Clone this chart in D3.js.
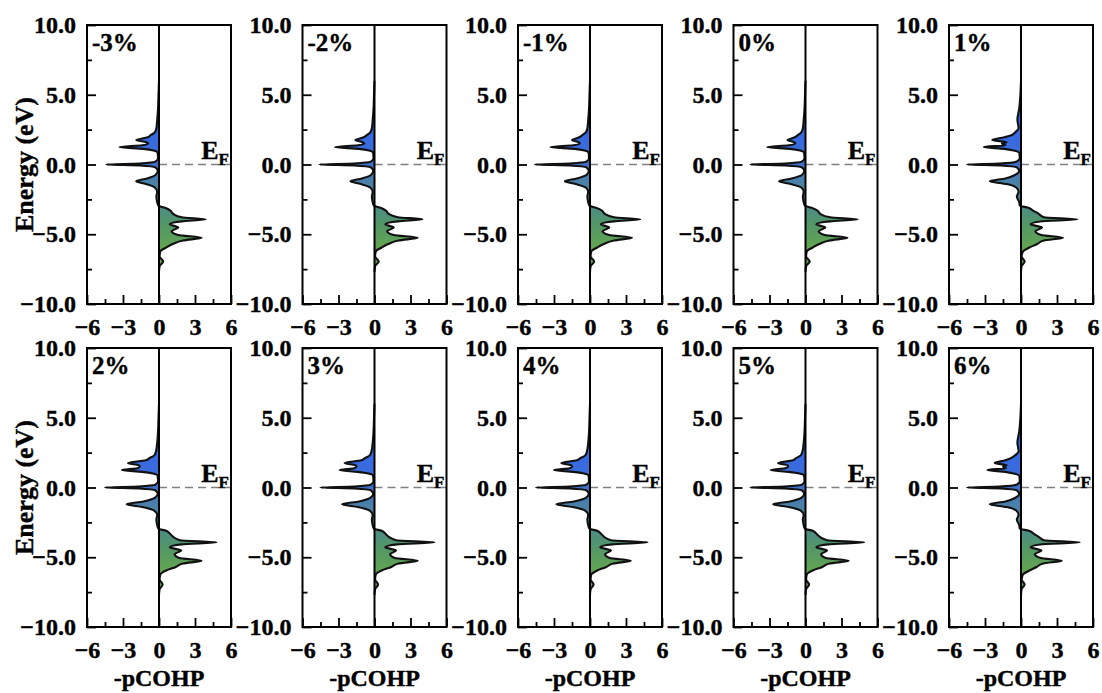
<!DOCTYPE html>
<html>
<head>
<meta charset="utf-8">
<script src="https://cdn.jsdelivr.net/npm/d3@7"></script>
<style>
  body { margin: 0; background: #fff; }
</style>
</head>
<body>
<div id="graf"></div>
<script>
// Datos
const strains = ["-3%", "-2%", "-1%", "0%", "1%", "2%", "3%", "4%", "5%", "6%"];

// Energía (eV), común a todos los paneles
const energy = [6.0, 5.0, 4.0, 3.2, 2.6, 2.3, 2.1, 1.95, 1.75, 1.6, 1.5, 1.38, 1.25, 1.12, 1.0, 0.85, 0.45, 0.2, 0.07, 0.0,
  -0.07, -0.2, -0.45, -0.75, -1.0, -1.2, -1.4, -1.65, -1.95, -2.3, -2.7, -2.95, -3.1, -3.3, -3.55, -3.78, -3.93, -4.08,
  -4.28, -4.52, -4.78, -5.05, -5.25, -5.45, -5.7, -5.95, -6.25, -6.6, -6.95, -7.3, -7.7];

// -pCOHP por deformación
const cohpM3 = [0, -0.04, -0.08, -0.15, -0.22, -0.35, -0.7, -0.95, -1.9, -1.05,
  -0.9, -1.4, -3.3, -1.3, -0.45, -0.12, -0.08, -0.3, -1.6, -4.4,
  -1.6, -0.3, -0.1, -0.3, -1.0, -1.9, -1.1, -0.35, -0.15, -0.22,
  -0.15, -0.05, 0.5, 0.95, 1.2, 1.9, 3.9, 1.9, 0.9, 1.6,
  1.05, 1.6, 3.55, 2.0, 1.15, 0.6, 0.1, 0.05, 0.35, 0.05, 0];
const cohpM2 = [0, -0.04, -0.08, -0.15, -0.22, -0.35, -0.65, -0.9, -1.6, -1.0,
  -0.85, -1.4, -3.3, -1.3, -0.45, -0.12, -0.08, -0.3, -1.7, -4.6,
  -1.7, -0.3, -0.1, -0.3, -1.05, -2.0, -1.15, -0.35, -0.15, -0.22,
  -0.15, -0.05, 0.5, 0.95, 1.2, 1.95, 4.0, 1.95, 0.9, 1.6,
  1.05, 1.6, 3.6, 2.0, 1.15, 0.6, 0.1, 0.05, 0.35, 0.05, 0];
const cohpM1 = [0, -0.04, -0.08, -0.15, -0.22, -0.35, -0.65, -0.9, -1.5, -0.95,
  -0.85, -1.4, -3.3, -1.3, -0.45, -0.12, -0.08, -0.3, -1.7, -4.6,
  -1.7, -0.3, -0.1, -0.3, -1.1, -2.1, -1.2, -0.35, -0.15, -0.22,
  -0.15, -0.05, 0.5, 1.0, 1.25, 2.0, 4.2, 2.0, 0.9, 1.6,
  1.05, 1.6, 3.5, 2.0, 1.15, 0.6, 0.1, 0.05, 0.35, 0.05, 0];
const cohp0 = [0, -0.04, -0.08, -0.15, -0.22, -0.35, -0.65, -0.9, -1.5, -0.95,
  -0.85, -1.4, -3.2, -1.3, -0.45, -0.12, -0.08, -0.3, -1.7, -4.6,
  -1.7, -0.3, -0.1, -0.3, -1.15, -2.2, -1.25, -0.35, -0.15, -0.22,
  -0.15, -0.05, 0.5, 1.0, 1.25, 2.05, 4.35, 2.05, 0.9, 1.65,
  1.1, 1.6, 3.5, 2.0, 1.15, 0.6, 0.1, 0.05, 0.35, 0.05, 0];
const cohpP1 = [0, -0.05, -0.15, -0.3, -0.2, -0.5, -0.8, -1.4, -2.4, -1.2,
  -1.6, -1.3, -3.1, -1.4, -0.6, -0.15, -0.1, -0.4, -1.8, -4.5,
  -1.7, -0.35, -0.15, -0.5, -1.3, -2.6, -1.2, -0.4, -0.2, -0.35,
  -0.15, -0.1, 0.6, 1.0, 1.5, 1.9, 4.7, 1.6, 0.8, 1.75,
  1.2, 1.7, 3.5, 1.9, 1.35, 0.7, 0.15, 0.05, 0.3, 0.05, 0];
const cohpP2 = [0, -0.04, -0.08, -0.15, -0.25, -0.4, -0.8, -1.1, -2.6, -1.7,
  -1.6, -1.8, -3.1, -1.4, -0.5, -0.12, -0.08, -0.3, -1.7, -4.5,
  -1.7, -0.3, -0.1, -0.35, -1.3, -2.7, -1.4, -0.4, -0.15, -0.22,
  -0.15, -0.05, 0.6, 0.9, 1.2, 1.75, 4.8, 1.9, 0.9, 1.85,
  1.3, 1.7, 3.55, 2.0, 1.4, 0.6, 0.1, 0.05, 0.3, 0.05, 0];
const cohpP3 = [0, -0.04, -0.08, -0.15, -0.25, -0.4, -0.8, -1.1, -2.5, -1.6,
  -1.5, -1.7, -2.9, -1.4, -0.5, -0.12, -0.08, -0.3, -1.7, -4.5,
  -1.7, -0.3, -0.1, -0.35, -1.3, -2.7, -1.4, -0.4, -0.15, -0.22,
  -0.15, -0.05, 0.6, 0.9, 1.2, 1.8, 5.0, 1.9, 0.9, 1.8,
  1.3, 1.7, 3.6, 2.0, 1.4, 0.6, 0.1, 0.05, 0.3, 0.05, 0];
const cohpP4 = [0, -0.04, -0.08, -0.15, -0.25, -0.4, -0.8, -1.1, -2.4, -1.6,
  -1.5, -1.7, -3.0, -1.4, -0.5, -0.12, -0.08, -0.3, -1.7, -4.5,
  -1.7, -0.3, -0.1, -0.35, -1.35, -2.8, -1.45, -0.4, -0.15, -0.22,
  -0.15, -0.05, 0.6, 0.9, 1.2, 1.75, 4.8, 1.85, 0.85, 1.75,
  1.25, 1.65, 3.4, 1.95, 1.35, 0.6, 0.1, 0.05, 0.3, 0.05, 0];
const cohpP5 = [0, -0.04, -0.08, -0.15, -0.25, -0.4, -0.8, -1.05, -2.3, -1.5,
  -1.45, -1.7, -2.9, -1.4, -0.5, -0.12, -0.08, -0.3, -1.75, -4.6,
  -1.75, -0.3, -0.1, -0.35, -1.3, -2.7, -1.4, -0.4, -0.15, -0.22,
  -0.15, -0.05, 0.6, 0.9, 1.2, 1.8, 4.9, 1.9, 0.9, 1.8,
  1.3, 1.7, 3.6, 2.0, 1.4, 0.6, 0.1, 0.05, 0.3, 0.05, 0];
const cohpP6 = [0, -0.05, -0.15, -0.3, -0.2, -0.5, -0.85, -1.3, -2.2, -1.2,
  -1.5, -1.25, -2.8, -1.3, -0.6, -0.15, -0.1, -0.4, -1.8, -4.5,
  -1.7, -0.35, -0.15, -0.5, -1.3, -2.6, -1.2, -0.4, -0.2, -0.35,
  -0.15, -0.1, 0.65, 1.05, 1.5, 1.9, 4.9, 1.6, 0.8, 1.7,
  1.15, 1.65, 3.4, 1.85, 1.3, 0.7, 0.15, 0.05, 0.3, 0.05, 0];

const series = [cohpM3, cohpM2, cohpM1, cohp0, cohpP1, cohpP2, cohpP3, cohpP4, cohpP5, cohpP6];

// Ticks
const yMajor = [-10, -5, 0, 5, 10];
const yMinor = [-7.5, -2.5, 2.5, 7.5];
const xMajor = [-6, -3, 0, 3, 6];
const xMinor = [-4.5, -1.5, 1.5, 4.5];

// Dimensiones
const anchoTotal = 1102;
const altoTotal = 693;
const pw = 144;
const ph = 279;
const colLeft = (i) => 87 + i * 215.5;
const rowTop = [25, 348];

// Fuente tipo Times disponible
const ctx = document.createElement("canvas").getContext("2d");
const ancho = (f) => { ctx.font = "bold 40px " + f; return ctx.measureText("Energy 10.0 -pCOHP").width; };
const base = ancho("monospace");
const candidata = ["Liberation Serif", "Times New Roman", "Tinos", "Nimbus Roman", "DejaVu Serif"]
  .find((f) => ancho(`'${f}', monospace`) !== base) || "serif";
const fuente = `'${candidata}', serif`;

const svg = d3.select("#graf")
  .append("svg")
  .attr("width", anchoTotal)
  .attr("height", altoTotal)
  .style("font-family", fuente)
  .style("font-weight", "bold");

const x = d3.scaleLinear().domain([-6, 6]).range([0, pw]);
const y = d3.scaleLinear().domain([-10, 10]).range([ph, 0]);

// Degradado azul -> verde según la energía
const stops = [
  { e: 3, c: "#3366e6" },
  { e: 1.2, c: "#3b6cdc" },
  { e: 0, c: "#406fc6" },
  { e: -1.2, c: "#4a80aa" },
  { e: -3, c: "#4d8c86" },
  { e: -4.2, c: "#52966a" },
  { e: -6, c: "#62a550" },
];
const grad = svg.append("defs")
  .append("linearGradient")
  .attr("id", "grad")
  .attr("gradientUnits", "userSpaceOnUse")
  .attr("x1", 0).attr("x2", 0)
  .attr("y1", y(3)).attr("y2", y(-6));
grad.selectAll("stop")
  .data(stops)
  .enter()
  .append("stop")
  .attr("offset", (d) => (3 - d.e) / 9)
  .attr("stop-color", (d) => d.c);

const area = d3.area()
  .y((d) => y(d[0]))
  .x0(x(0))
  .x1((d) => x(d[1]))
  .curve(d3.curveMonotoneY);

const line = d3.line()
  .y((d) => y(d[0]))
  .x((d) => x(d[1]))
  .curve(d3.curveMonotoneY);

const estiloEje = (g) => {
  g.select(".domain").remove();
  g.attr("font-family", fuente).attr("font-size", 24).attr("font-weight", "bold");
  g.selectAll(".tick line").attr("stroke", "#000").attr("stroke-width", 1.8);
  g.selectAll(".tick text").attr("fill", "#000").attr("stroke", "#000").attr("stroke-width", 0.4);
};

strains.forEach((label, i) => {
  const col = i % 5;
  const row = Math.floor(i / 5);
  const pts = energy.map((e, k) => [e, series[i][k]]);

  const g = svg.append("g")
    .attr("transform", `translate(${colLeft(col)}, ${rowTop[row]})`);

  g.append("path")
    .datum(pts)
    .attr("d", area)
    .attr("fill", "url(#grad)");

  // Nivel de Fermi
  g.append("line")
    .attr("x1", x(0)).attr("x2", pw)
    .attr("y1", y(0)).attr("y2", y(0))
    .attr("stroke", "#808080")
    .attr("stroke-width", 1.5)
    .attr("stroke-dasharray", "8,5");

  g.append("path")
    .datum(pts)
    .attr("d", line)
    .attr("fill", "none")
    .attr("stroke", "#111")
    .attr("stroke-width", 2.1)
    .attr("stroke-linejoin", "round");

  g.append("line")
    .attr("x1", x(0)).attr("x2", x(0))
    .attr("y1", 0).attr("y2", ph)
    .attr("stroke", "#000")
    .attr("stroke-width", 2);

  g.append("rect")
    .attr("width", pw).attr("height", ph)
    .attr("fill", "none")
    .attr("stroke", "#000")
    .attr("stroke-width", 2);

  // Ejes
  g.append("g")
    .call(d3.axisLeft(y).tickValues(yMajor).tickSize(-9).tickPadding(11).tickFormat(d3.format(".1f")))
    .call(estiloEje);
  g.append("g")
    .call(d3.axisLeft(y).tickValues(yMinor).tickSize(-5).tickFormat(""))
    .call(estiloEje);
  g.append("g")
    .attr("transform", `translate(0, ${ph})`)
    .call(d3.axisBottom(x).tickValues(xMajor).tickSize(-9).tickPadding(14))
    .call(estiloEje);
  g.append("g")
    .attr("transform", `translate(0, ${ph})`)
    .call(d3.axisBottom(x).tickValues(xMinor).tickSize(-5).tickFormat(""))
    .call(estiloEje);

  // Etiqueta del panel
  g.append("text")
    .attr("x", 5)
    .attr("y", 26)
    .attr("font-size", 25)
    .attr("stroke", "#000").attr("stroke-width", 0.4)
    .text(label);

  // E_F
  const ef = g.append("text")
    .attr("x", pw - 2)
    .attr("y", y(0) - 6)
    .attr("text-anchor", "end")
    .attr("font-size", 26)
    .attr("stroke", "#000").attr("stroke-width", 0.4);
  ef.append("tspan").text("E");
  ef.append("tspan").attr("dy", 6).attr("font-size", 17).text("F");

  if (row === 1) {
    g.append("text")
      .attr("x", pw / 2)
      .attr("y", ph + 59)
      .attr("text-anchor", "middle")
      .attr("font-size", 24)
      .attr("stroke", "#000").attr("stroke-width", 0.4)
      .text("-pCOHP");
  }
});

rowTop.forEach((t) => {
  svg.append("text")
    .attr("transform", `translate(33, ${t + ph / 2}) rotate(-90)`)
    .attr("text-anchor", "middle")
    .attr("font-size", 26)
    .attr("stroke", "#000").attr("stroke-width", 0.4)
    .text("Energy (eV)");
});
</script>
</body>
</html>
